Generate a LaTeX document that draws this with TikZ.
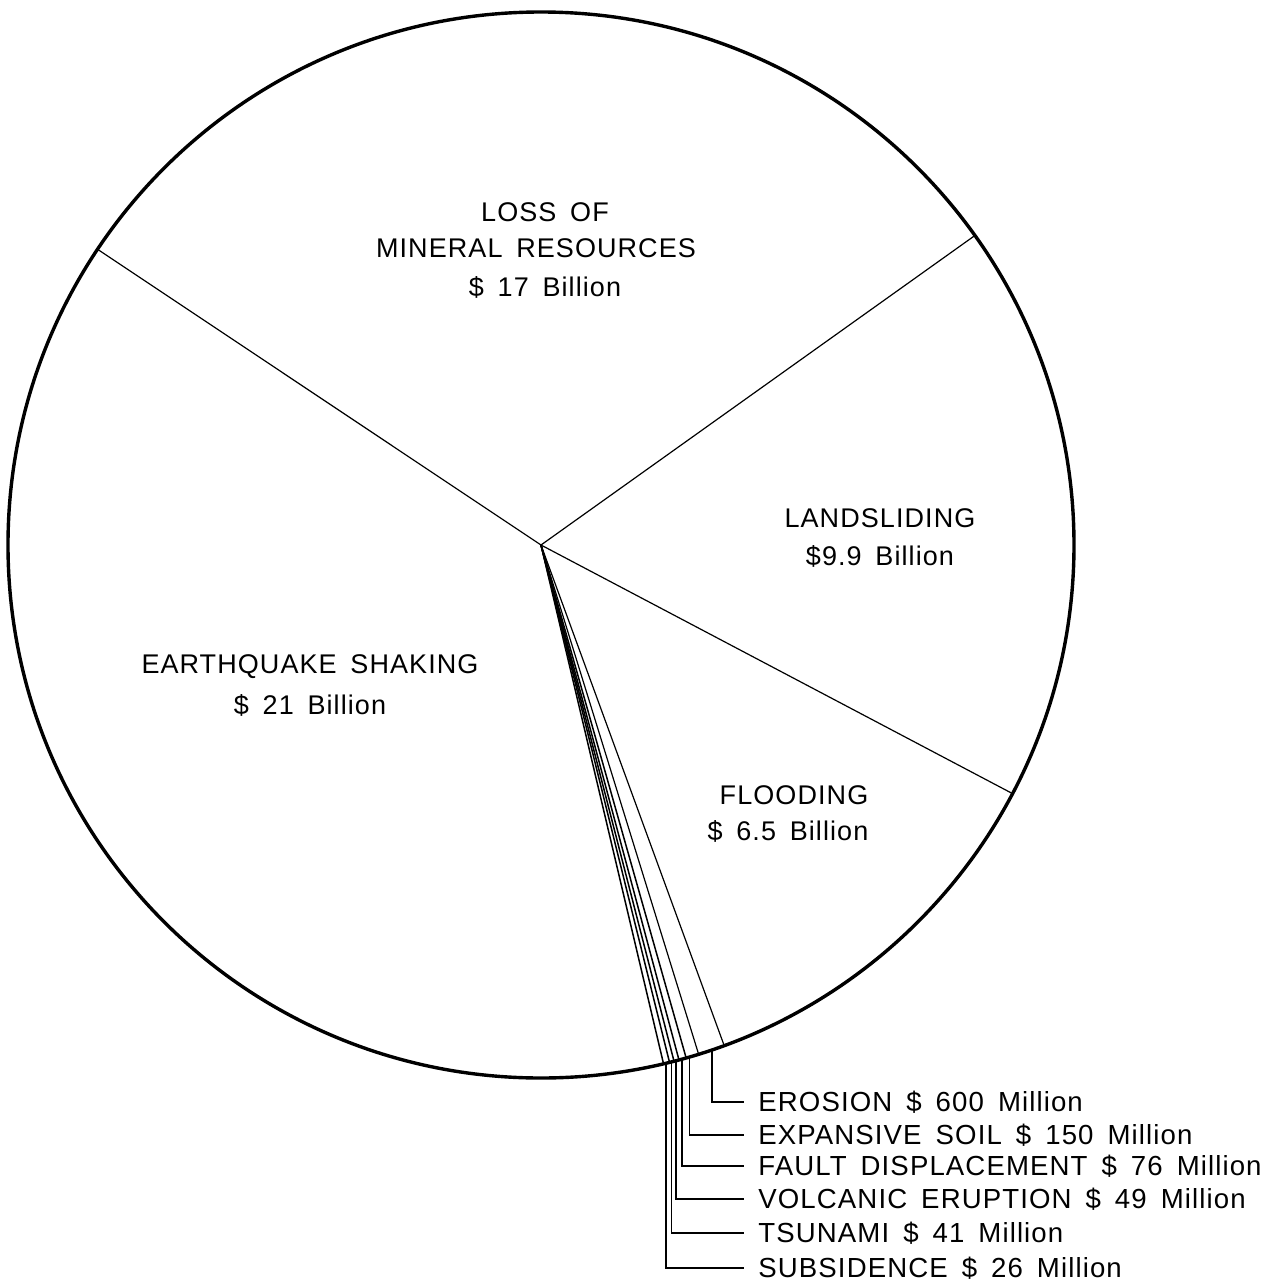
\documentclass[tikz,border=0pt]{standalone}
\usepackage{fontspec}
\setmainfont{Liberation Sans}[LetterSpace=4,WordSpace=1.6]
\begin{document}
\begin{tikzpicture}[x=0.5pt,y=0.5pt,
  rim/.style={line width=1.7pt},
  slice/.style={line width=0.6pt},
  thinslice/.style={line width=0.75pt},
  leader/.style={line width=0.7pt},
  lbl/.style={font=\fontsize{13.5}{16}\selectfont, inner sep=0pt},
  small/.style={font=\fontsize{13.8}{16}\selectfont, anchor=west, inner xsep=7pt, inner ysep=0pt, text height=9.9pt, text depth=0pt}]
\useasboundingbox (0,0) rectangle (1274,-1286);
\coordinate (O) at (541,-545);
\draw[rim] (O) circle[radius=266.5pt];
% slice boundaries
\foreach \a/\n in {146.3/b1,35.5/b2,-27.8/b3,-69.9/b4,-72.8/b5,-74.2/b6,-75/b7,-75.55/b8,-76.05/b9,-76.71/b10}
  \coordinate (\n) at ([shift={(\a:266.5pt)}]O);
\foreach \n in {b1,b2,b3,b4,b5}
  \draw[slice] (O) -- (\n);
\foreach \n in {b6,b7,b8,b9,b10}
  \draw[thinslice] (O) -- (\n);
% leader starts on the rim
\foreach \a/\n in {-71.3/l1,-73.8/l2,-74.66/l3,-75.33/l4,-75.83/l5,-76.43/l6}
  \coordinate (\n) at ([shift={(\a:266.5pt)}]O);
% large slice labels
\node[lbl] (m1) at (545,-212) {LOSS OF};
\node[lbl] (m2) at (536,-248) {MINERAL RESOURCES};
\node[lbl] (m3) at (545,-287) {\$ 17 Billion};
\node[lbl] (s1) at (880,-518) {LANDSLIDING};
\node[lbl] (s2) at (880,-556) {\$9.9 Billion};
\node[lbl] (q1) at (310,-667) {EARTHQUAKE SHAKING};
\node[lbl] (q2) at (310,-705) {\$ 21 Billion};
\node[lbl] (f1) at (794,-795) {FLOODING};
\node[lbl] (f2) at (788,-831) {\$ 6.5 Billion};
% small slice labels
\node[small] (e1) at (744,-1102) {EROSION \$ 600 Million};
\node[small] (e2) at (744,-1135) {EXPANSIVE SOIL \$ 150 Million};
\node[small] (e3) at (744,-1166) {FAULT DISPLACEMENT \$ 76 Million};
\node[small] (e4) at (744,-1199) {VOLCANIC ERUPTION \$ 49 Million};
\node[small] (e5) at (744,-1233) {TSUNAMI \$ 41 Million};
\node[small] (e6) at (744,-1268) {SUBSIDENCE \$ 26 Million};
\draw[leader] (l1) |- (e1.west);
\draw[leader] (l2) |- (e2.west);
\draw[leader] (l3) |- (e3.west);
\draw[leader] (l4) |- (e4.west);
\draw[leader] (l5) |- (e5.west);
\draw[leader] (l6) |- (e6.west);
\end{tikzpicture}
\end{document}
